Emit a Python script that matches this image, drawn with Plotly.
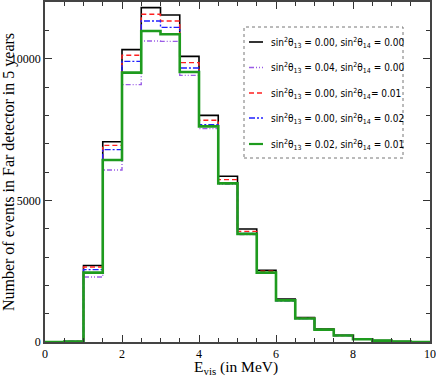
import plotly.graph_objects as go

# bin edges (MeV)
edges = [0.0, 0.5, 1.0, 1.5, 2.0, 2.5, 3.0, 3.5, 4.0, 4.5, 5.0,
         5.5, 6.0, 6.5, 7.0, 7.5, 8.0, 8.5, 9.0, 9.5, 10.0]

ev_00_00 = [0, 20, 2700, 7070, 10320, 11800, 11540, 10080, 8000, 5850, 3990,
            2530, 1515, 860, 455, 236, 100, 50, 15, 0]
ev_04_00 = [0, 17, 2294, 6070, 9083, 10622, 10611, 9412, 7530, 5570, 3790,
            2430, 1460, 830, 437, 228, 97, 48, 14, 0]
ev_00_01 = [0, 20, 2647, 6940, 10120, 11565, 11330, 9860, 7825, 5730, 3906,
            2495, 1485, 843, 446, 231, 98, 49, 15, 0]
ev_00_02 = [0, 19, 2555, 6790, 9905, 11330, 11105, 9670, 7670, 5610, 3830,
            2450, 1455, 826, 437, 227, 96, 48, 14, 0]
ev_02_01 = [0, 18, 2450, 6423, 9507, 10975, 10860, 9528, 7612, 5600, 3815,
            2449, 1470, 830, 437, 229, 97, 48, 14, 0]

labels = [
    "sin<sup>2</sup>θ<sub>13</sub> = 0.00, sin<sup>2</sup>θ<sub>14</sub> = 0.00",
    "sin<sup>2</sup>θ<sub>13</sub> = 0.04, sin<sup>2</sup>θ<sub>14</sub> = 0.00",
    "sin<sup>2</sup>θ<sub>13</sub> = 0.00, sin<sup>2</sup>θ<sub>14</sub>= 0.01",
    "sin<sup>2</sup>θ<sub>13</sub> = 0.00, sin<sup>2</sup>θ<sub>14</sub> = 0.02",
    "sin<sup>2</sup>θ<sub>13</sub> = 0.02, sin<sup>2</sup>θ<sub>14</sub> = 0.01",
]
series = [ev_00_00, ev_04_00, ev_00_01, ev_00_02, ev_02_01]
styles = [
    dict(color="#000000", width=1.6, dash="solid"),
    dict(color="#9a5ce6", width=1.4, dash="5px,2px,1px,2px,1px,2px"),
    dict(color="#ff2020", width=1.4, dash="5px,3px"),
    dict(color="#1f1fff", width=1.4, dash="6px,2px,2px,2px"),
    dict(color="#1e9b1e", width=2.6, dash="solid"),
]

fig = go.Figure()
for vals, st, lab in zip(series, styles, labels):
    fig.add_trace(go.Scatter(
        x=edges, y=vals + [vals[-1]], mode="lines", line_shape="hv",
        line=st, name=lab, showlegend=False, hoverinfo="skip"))

# manual legend (dotted box)
L = 45; R = 430; T = 2; B = 342
def px_x(p): return (p - L) / (R - L)
def px_y(p): return (B - p) / (B - T)

shapes = [dict(type="rect", xref="paper", yref="paper",
               x0=px_x(244), x1=px_x(403), y0=px_y(158), y1=px_y(27),
               line=dict(color="#777777", width=1, dash="dot"),
               fillcolor="white", layer="above")]
annotations = []
ys = [42, 67.5, 93, 118, 144]
for yy, st, lab in zip(ys, styles, labels):
    shapes.append(dict(type="line", xref="paper", yref="paper",
                       x0=px_x(249), x1=px_x(263), y0=px_y(yy), y1=px_y(yy),
                       line=dict(color=st["color"], width=min(st["width"], 2.2),
                                 dash=st["dash"]), layer="above"))
    annotations.append(dict(xref="paper", yref="paper", x=px_x(269),
                            y=px_y(yy + 1), xanchor="left", yanchor="middle",
                            text=lab, showarrow=False,
                            font=dict(family="DejaVu Sans Condensed, Liberation Sans, Arial",
                                      size=10, color="black")))

# x-axis title
annotations.append(dict(xref="paper", yref="paper", x=px_x(236), y=px_y(367),
                        xanchor="center", yanchor="middle", showarrow=False,
                        text="E<sub>vis</sub> (in MeV)",
                        font=dict(family="Liberation Serif, Times New Roman, serif",
                                  size=15.5, color="black")))

axis_common = dict(showgrid=False, zeroline=False, showline=True, mirror="ticks",
                   linecolor="#444444", linewidth=1.5, ticks="inside",
                   ticklen=7, tickwidth=1.2, tickcolor="#333333", automargin=False,
                   tickformat="d",
                   tickfont=dict(family="Liberation Serif, Times New Roman, serif",
                                 size=12, color="black"))

fig.update_layout(
    width=436, height=382,
    margin=dict(l=L, r=436 - R, t=T, b=382 - B),
    paper_bgcolor="white", plot_bgcolor="white",
    shapes=shapes, annotations=annotations,
    xaxis=dict(range=[0, 10], dtick=2, tick0=0,
               minor=dict(dtick=0.5, ticks="inside", ticklen=4, tickcolor="#333333"),
               **axis_common),
    yaxis=dict(range=[0, 12000], dtick=5000, tick0=0,
               minor=dict(dtick=1000, ticks="inside", ticklen=4, tickcolor="#333333"),
               title=dict(text="Number of events in Far detector in 5 years", standoff=1,
                          font=dict(family="Liberation Serif, Times New Roman, serif",
                                    size=16, color="black")),
               **axis_common),
)

fig.write_html("out.html", config={"displayModeBar": False},
               post_script="document.body.style.margin='0';document.body.style.overflow='hidden';")
